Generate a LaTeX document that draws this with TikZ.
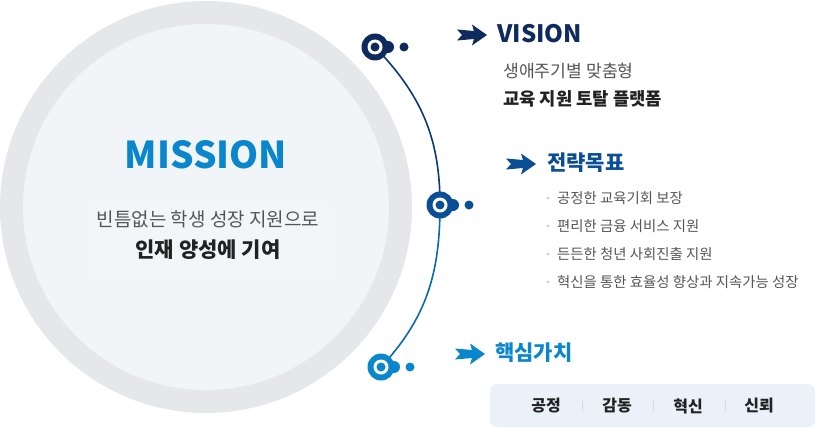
\documentclass[tikz,border=0pt]{standalone}
\usepackage{fontspec}
\setmainfont{Noto Sans CJK KR}
\usepackage{tikz}
\usetikzlibrary{positioning}
\definecolor{ringgray}{HTML}{E6E7EA}
\definecolor{coregray}{HTML}{F2F5F8}
\definecolor{navy}{HTML}{0D2B5E}
\definecolor{midblue}{HTML}{0A4F96}
\definecolor{skyblue}{HTML}{0A86CD}
\definecolor{txtgray}{HTML}{555555}
\definecolor{txtdark}{HTML}{222222}
\definecolor{boxblue}{HTML}{EAF1F9}
\newcommand{\fs}[1]{\fontsize{#1}{#1}\selectfont}
\tikzset{pics/dart/.style={code={%
  \fill[#1] (0,-5.5) -- (17,-4) -- (15,-10.5) -- (30,0) -- (15,10.5) -- (17,4) -- (0,5.5) -- (5,0) -- cycle;}}}

\begin{document}
\begin{tikzpicture}[x=1pt, y=-1pt, every node/.style={inner sep=0pt},
    head/.style={font=\fs{21}\bfseries, anchor=west},
    item/.style={font=\fs{14.4}, text=txtgray, anchor=west},
    val/.style={font=\fs{16}\bfseries, text=txtdark}]
    \useasboundingbox (0,0) rectangle (816,428);

    % mission circle
    \fill[ringgray] (206,207) circle (206);
    \fill[coregray] (206,207) circle (183);
    \fill[white, opacity=0.1] (90,205) rectangle (332,277);
    \node[font=\fs{37}\bfseries, text=skyblue] (mission) at (206,155) {MISSION};
    \node[font=\fs{19}, text=txtgray] (m1) at (208,219) {빈틈없는 학생 성장 지원으로};
    \node[font=\fs{21}\bfseries, text=txtdark, below=12pt of m1] (m2) {인재 양성에 기여};

    % timeline
    \coordinate (vis) at (375,47);
    \coordinate (goal) at (440,205);
    \coordinate (core) at (381,367);
    \draw[navy!60!midblue, line width=1.6pt] (vis) to[out=-46, in=90] (goal);
    \draw[midblue!55!skyblue, line width=1.6pt] (goal) to[out=-90, in=47] (core);
    \foreach \p/\c in {vis/navy, goal/midblue, core/skyblue} {
      \fill[\c] (\p) circle (13.5);
      \fill[\c] ([xshift=13pt]\p) circle (6);
      \fill[white] (\p) circle (7.5);
      \fill[\c] (\p) circle (4.5);
      \fill[\c] ([xshift=29pt]\p) circle (4.5);
    }

    % vision
    \pic at (457,35) {dart=navy};
    \node[head, font=\fs{24}\bfseries, text=navy] (vision) at (497,34) {VISION};
    \node[font=\fs{17.2}, text=txtgray, anchor=west] (v1) at (503,71) {생애주기별 맞춤형};
    \node[font=\fs{17.7}\bfseries, text=txtdark, anchor=west] (v2) at (503,99) {교육 지원 토탈 플랫폼};

    % goals
    \pic at (506,164) {dart=midblue};
    \node[head, text=midblue] (goals) at (547,163) {전략목표};
    \foreach \t [count=\i] in {공정한 교육기회 보장, 편리한 금융 서비스 지원,
        든든한 청년 사회진출 지원, 혁신을 통한 효율성 향상과 지속가능 성장} {
      \fill[black!18] (548,170+28*\i) circle (1.6);
      \node[item] (g\i) at (557,170+28*\i) {\t};
    }

    % core values
    \pic at (455,354) {dart=skyblue};
    \node[head, text=skyblue] (values) at (495,353) {핵심가치};
    \fill[boxblue, rounded corners=7pt] (490,384) rectangle (815,427);
    \node[val] (c1) at (546,406) {공정};
    \node[val] (c2) at (617,406) {감동};
    \node[val] (c3) at (688,406) {혁신};
    \node[val] (c4) at (759,406) {신뢰};
    \foreach \x in {582,653,725}
      \draw[black!15, line width=0.8pt] (\x,401) -- (\x,411);
\end{tikzpicture}
\end{document}
